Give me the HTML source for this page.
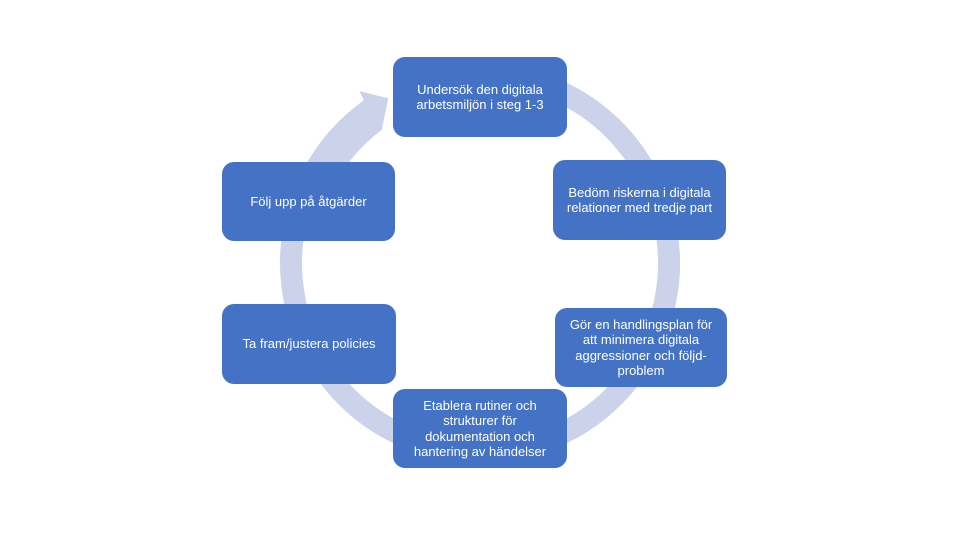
<!DOCTYPE html>
<html>
<head>
<meta charset="utf-8">
<style>
  html, body { margin: 0; padding: 0; background: #ffffff; }
  #stage { position: relative; width: 960px; height: 540px; overflow: hidden; background: #ffffff; }
  svg { position: absolute; left: 0; top: 0; }
  .box {
    position: absolute;
    background: #4472C4;
    border-radius: 12px;
    color: #ffffff;
    font-family: "Liberation Sans", Arial, sans-serif;
    font-size: 13px;
    line-height: 15.5px;
    display: flex;
    align-items: center;
    justify-content: center;
    text-align: center;
    white-space: nowrap;
  }
</style>
</head>
<body>
<div id="stage">
  <svg width="960" height="540" viewBox="0 0 960 540">
    <!-- main ring -->
    <path d="M 406.2 89 A 189 189 0 1 1 302.4 198.4" fill="none" stroke="#CBD2EA" stroke-width="22" stroke-linecap="butt"/>
    <!-- widened shaft near head + arrowhead -->
    <path d="M 286.8 211.2 A 200 200 0 0 1 363.9 100.2 L 359.3 91 L 388.3 98.3 L 381.7 130 A 165 165 0 0 0 320.6 220.3 Z" fill="#CBD2EA"/>
  </svg>

  <div class="box" style="left:393px; top:57px; width:174px; height:80px;">Undersök den digitala<br>arbetsmiljön i steg 1-3</div>
  <div class="box" style="left:553px; top:160px; width:173px; height:80px;">Bedöm riskerna i digitala<br>relationer med tredje part</div>
  <div class="box" style="left:555px; top:308px; width:172px; height:79px;">Gör en handlingsplan för<br>att minimera digitala<br>aggressioner och följd-<br>problem</div>
  <div class="box" style="left:393px; top:389px; width:174px; height:79px;">Etablera rutiner och<br>strukturer för<br>dokumentation och<br>hantering av händelser</div>
  <div class="box" style="left:222px; top:304px; width:174px; height:80px;">Ta fram/justera policies</div>
  <div class="box" style="left:222px; top:162px; width:173px; height:79px;">Följ upp på åtgärder</div>
</div>
</body>
</html>
